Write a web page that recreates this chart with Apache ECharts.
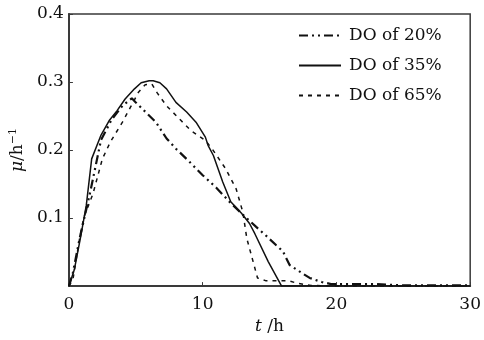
<!DOCTYPE html>
<html>
<head>
<meta charset="utf-8">
<script src="https://cdn.jsdelivr.net/npm/echarts@6/dist/echarts.min.js"></script>
<style>
  html, body { margin: 0; padding: 0; background: #fff; }
  #chart { width: 484px; height: 340px; }
</style>
</head>
<body>
<div id="chart"></div>
<script>
// time (h) and specific growth rate (1/h)
const t20 = [0, 0.3, 0.8, 1.6, 2.4, 3.2, 4.0, 4.7, 5.0, 6.5, 7.3, 8.0, 9.0, 10.0, 11.0, 12.0, 13.0, 14.0, 14.8, 15.5, 16.0, 16.5, 17.2, 18.0, 18.9, 19.6, 20.8, 23, 25, 30];
const mu20 = [0, 0.02, 0.07, 0.139, 0.215, 0.245, 0.265, 0.276, 0.270, 0.241, 0.217, 0.202, 0.183, 0.163, 0.145, 0.124, 0.105, 0.087, 0.073, 0.060, 0.051, 0.031, 0.022, 0.012, 0.006, 0.003, 0.003, 0.003, 0.001, 0.001];

const t35 = [0, 0.4, 0.9, 1.3, 1.7, 2.4, 3.0, 3.6, 4.2, 4.9, 5.4, 6.0, 6.3, 6.8, 7.3, 8.0, 8.8, 9.5, 10.2, 10.4, 10.8, 11.5, 12.1, 12.9, 13.5, 13.9, 14.9, 15.9, 20, 25, 30];
const mu35 = [0, 0.024, 0.075, 0.119, 0.187, 0.222, 0.243, 0.258, 0.275, 0.290, 0.299, 0.302, 0.302, 0.299, 0.290, 0.270, 0.256, 0.241, 0.219, 0.207, 0.192, 0.153, 0.124, 0.107, 0.092, 0.077, 0.036, 0, 0, 0, 0];

const t65 = [0, 0.3, 0.8, 1.1, 1.8, 2.5, 3.1, 4.0, 4.6, 5.2, 5.7, 6.2, 6.6, 7.3, 8.4, 9.1, 10.2, 10.7, 11.7, 12.5, 13.0, 13.3, 13.7, 14.1, 14.7, 16.4, 17.1, 18.1, 20, 25, 30];
const mu65 = [0, 0.01, 0.07, 0.1, 0.136, 0.187, 0.212, 0.241, 0.263, 0.285, 0.296, 0.297, 0.284, 0.265, 0.243, 0.229, 0.214, 0.202, 0.173, 0.143, 0.109, 0.07, 0.041, 0.012, 0.008, 0.008, 0.004, 0.001, 0, 0, 0];

const seriesNames = ["DO of 20%", "DO of 35%", "DO of 65%"];
const xTicks = [0, 10, 20, 30];
const yTicks = [0.1, 0.2, 0.3, 0.4];

const pairs = (xs, ys) => xs.map((x, i) => [x, ys[i]]);

const font = "DejaVu Serif";
const axisColor = "#3a3a3a";

const chart = echarts.init(document.getElementById("chart"));

const option = {
  animation: false,
  textStyle: { fontFamily: font },
  grid: {
    left: 68,
    right: 10,
    top: 14,
    bottom: 52,
    show: true,
    borderColor: axisColor,
    borderWidth: 1.5,
    backgroundColor: "transparent",
  },
  legend: {
    orient: "vertical",
    left: 298,
    top: 27,
    padding: 0,
    itemWidth: 42,
    itemHeight: 14,
    itemGap: 13,
    data: seriesNames,
    itemStyle: { opacity: 0 },
    textStyle: {
      fontFamily: font,
      fontSize: 17,
      color: "#111",
      padding: [0, 0, 0, 3],
    },
  },
  xAxis: {
    type: "value",
    min: 0,
    max: 30,
    interval: 10,
    name: "{i|t} /h",
    nameLocation: "middle",
    nameGap: 27,
    nameTextStyle: {
      fontFamily: font,
      fontSize: 17,
      color: "#111",
      rich: { i: { fontFamily: font, fontStyle: "italic", fontSize: 17, color: "#111" } },
    },
    axisLine: { lineStyle: { color: axisColor, width: 2 } },
    axisTick: { inside: true, length: 4, lineStyle: { color: axisColor } },
    axisLabel: {
      fontFamily: font,
      fontSize: 17,
      color: "#111",
      margin: 10,
      formatter: (v) => (xTicks.includes(v) ? String(v) : ""),
    },
    splitLine: { show: false },
  },
  yAxis: {
    type: "value",
    min: 0,
    max: 0.4,
    interval: 0.1,
    name: "{i|μ}/h{s|−1}",
    nameLocation: "middle",
    nameGap: 41,
    nameRotate: 90,
    nameTextStyle: {
      fontFamily: font,
      fontSize: 17,
      color: "#111",
      rich: {
        i: { fontFamily: font, fontStyle: "italic", fontSize: 17, color: "#111" },
        s: { fontFamily: font, fontSize: 11, color: "#111", verticalAlign: "top", padding: [0, 0, 8, 0] },
      },
    },
    axisLine: { show: true, lineStyle: { color: axisColor, width: 2 } },
    axisTick: { show: true, inside: true, length: 4, lineStyle: { color: axisColor } },
    axisLabel: {
      fontFamily: font,
      fontSize: 17,
      color: "#111",
      margin: 5,
      formatter: (v) => {
        const r = Math.round(v * 10) / 10;
        return yTicks.includes(r) ? r.toFixed(1) : "";
      },
    },
    splitLine: { show: false },
  },
  series: [
    {
      name: seriesNames[0],
      type: "line",
      symbol: "none",
      data: pairs(t20, mu20),
      lineStyle: { color: "#111", width: 2.2, type: [9, 4, 2, 4, 2, 4] },
      itemStyle: { color: "#111" },
    },
    {
      name: seriesNames[1],
      type: "line",
      symbol: "none",
      data: pairs(t35, mu35),
      lineStyle: { color: "#111", width: 1.5, type: "solid" },
      itemStyle: { color: "#111" },
    },
    {
      name: seriesNames[2],
      type: "line",
      symbol: "none",
      data: pairs(t65, mu65),
      lineStyle: { color: "#111", width: 1.5, type: [4, 5] },
      itemStyle: { color: "#111" },
    },
  ],
};

chart.setOption(option);
</script>
</body>
</html>
